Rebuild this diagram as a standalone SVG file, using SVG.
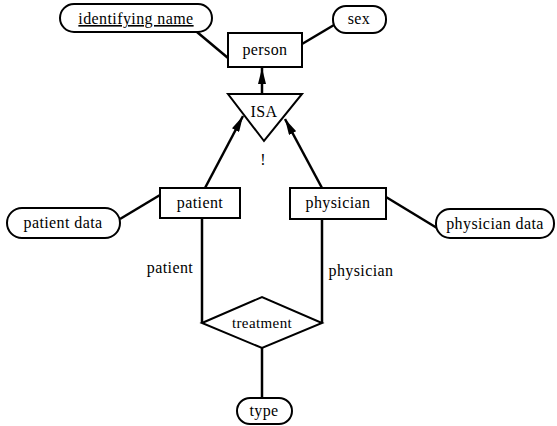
<svg xmlns="http://www.w3.org/2000/svg" width="557" height="426" viewBox="0 0 557 426">
<style>
.box{fill:#fff;stroke:#000;stroke-width:2}
.attr{fill:#fff;stroke:#000;stroke-width:2}
.ln{stroke:#000;stroke-width:2.5;fill:none}
.t{font-family:"Liberation Serif",serif;font-size:16px;fill:#000;text-anchor:middle;letter-spacing:0.4px}
</style>
<defs>
<marker id="ah" viewBox="0 0 16 8" refX="16" refY="4" markerWidth="16" markerHeight="8" markerUnits="userSpaceOnUse" orient="auto">
<path d="M0,0 L16,4 L0,8 Z" fill="#000"/>
</marker>
</defs>
<g id="connectors">
<line class="ln" x1="197" y1="32" x2="228" y2="58"/>
<line class="ln" x1="334" y1="25" x2="302" y2="44"/>
<line class="ln" x1="262" y1="94" x2="262" y2="68" marker-end="url(#ah)"/>
<line class="ln" x1="205" y1="188" x2="243" y2="116" marker-end="url(#ah)"/>
<line class="ln" x1="322" y1="188" x2="285" y2="119" marker-end="url(#ah)"/>
<line class="ln" x1="120" y1="219" x2="160" y2="195"/>
<line class="ln" x1="386" y1="197" x2="437" y2="228"/>
<line class="ln" x1="202" y1="218" x2="202" y2="323"/>
<line class="ln" x1="322" y1="219" x2="322" y2="323"/>
<line class="ln" x1="262" y1="348" x2="262" y2="398"/>
<text class="t" x="170" y="273">patient</text>
<text class="t" x="361" y="276">physician</text>
</g>
<g id="identifying_name">
<rect class="attr" x="60" y="4" width="152" height="28" rx="14"/>
<text class="t" x="136" y="24" text-decoration="underline">identifying name</text>
</g>
<g id="sex">
<rect class="attr" x="333" y="6" width="53" height="27" rx="13"/>
<text class="t" x="359" y="24">sex</text>
</g>
<g id="person">
<rect class="box" x="228" y="33" width="74" height="34"/>
<text class="t" x="265" y="55">person</text>
</g>
<g id="isa">
<polygon class="box" points="228,94 302,94 264,141"/>
<text class="t" x="264" y="117">ISA</text>
<text class="t" x="263" y="165">!</text>
</g>
<g id="patient">
<rect class="box" x="160" y="188" width="80" height="30"/>
<text class="t" x="200" y="208">patient</text>
</g>
<g id="patient_data">
<rect class="attr" x="7" y="208" width="113" height="30" rx="15"/>
<text class="t" x="63" y="228">patient data</text>
</g>
<g id="physician">
<rect class="box" x="290" y="188" width="96" height="31"/>
<text class="t" x="338" y="208">physician</text>
</g>
<g id="physician_data">
<rect class="attr" x="436" y="209" width="118" height="29" rx="14"/>
<text class="t" x="495" y="229">physician data</text>
</g>
<g id="treatment">
<polygon class="box" points="202,323 262,297 322,323 262,348"/>
<text class="t" x="262" y="328" style="font-size:15px">treatment</text>
</g>
<g id="type">
<rect class="attr" x="237" y="398" width="55" height="26" rx="13"/>
<text class="t" x="264" y="416">type</text>
</g>
</svg>
